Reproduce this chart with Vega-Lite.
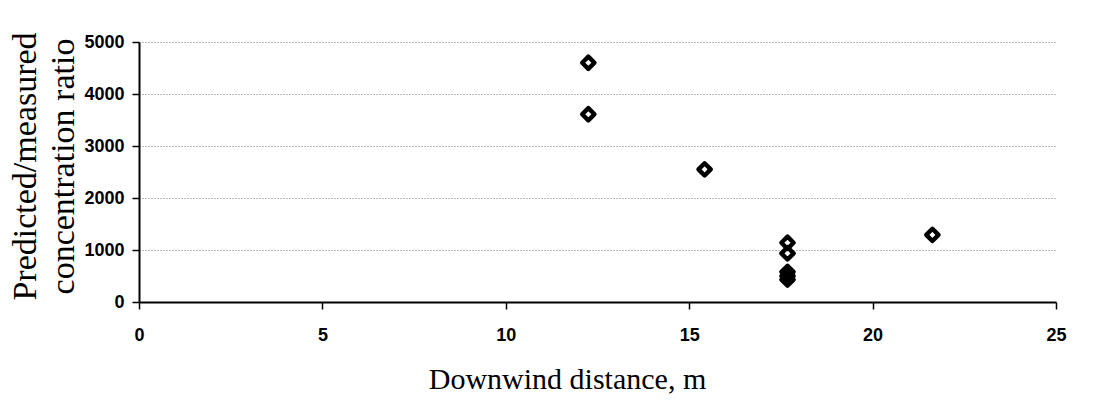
{
  "$schema": "https://vega.github.io/schema/vega-lite/v6.json",
  "autosize": {"type": "none"},
  "padding": {"left": 139, "top": 42, "right": 39, "bottom": 116},
  "width": 917,
  "height": 260,
  "background": "white",
  "data": {
    "values": [
      {"distance": 12.25, "ratio": 4600},
      {"distance": 12.25, "ratio": 3610},
      {"distance": 15.42, "ratio": 2550},
      {"distance": 17.68, "ratio": 1140},
      {"distance": 17.68, "ratio": 936},
      {"distance": 17.68, "ratio": 580},
      {"distance": 17.68, "ratio": 500},
      {"distance": 17.68, "ratio": 430},
      {"distance": 21.63, "ratio": 1290}
    ]
  },
  "mark": {
    "type": "point",
    "shape": "diamond",
    "filled": false,
    "size": 150,
    "strokeWidth": 4.4,
    "strokeJoin": "round",
    "color": "black",
    "opacity": 1
  },
  "encoding": {
    "x": {
      "field": "distance",
      "type": "quantitative",
      "scale": {"domain": [0, 25], "nice": false, "zero": true},
      "axis": {
        "title": "Downwind distance, m",
        "values": [0, 5, 10, 15, 20, 25],
        "format": "d",
        "grid": false,
        "domainColor": "black",
        "domainWidth": 2,
        "tickColor": "black",
        "tickWidth": 1.5,
        "tickSize": 7,
        "labelFont": "Liberation Sans",
        "labelFontWeight": "bold",
        "labelFontSize": 18,
        "labelColor": "black",
        "labelPadding": 17,
        "labelFlush": false,
        "titleFont": "Liberation Serif",
        "titleFontWeight": "normal",
        "titleFontSize": 30,
        "titleColor": "black",
        "titleX": 428,
        "titleY": 86,
        "titleAlign": "center",
        "titleBaseline": "alphabetic"
      }
    },
    "y": {
      "field": "ratio",
      "type": "quantitative",
      "scale": {"domain": [0, 5000], "nice": false},
      "axis": {
        "title": ["Predicted/measured", "concentration ratio"],
        "values": [0, 1000, 2000, 3000, 4000, 5000],
        "format": "d",
        "grid": true,
        "gridColor": "#777777",
        "gridDash": [1, 2],
        "gridWidth": 1,
        "domainColor": "black",
        "domainWidth": 2,
        "tickColor": "black",
        "tickWidth": 1.5,
        "tickSize": 7,
        "labelFont": "Liberation Sans",
        "labelFontWeight": "bold",
        "labelFontSize": 18,
        "labelColor": "black",
        "labelPadding": 8,
        "labelFlush": false,
        "titleFont": "Liberation Serif",
        "titleFontWeight": "normal",
        "titleFontSize": 34,
        "titleColor": "black",
        "titleLineHeight": 38,
        "titleAngle": -90,
        "titleX": -131,
        "titleY": 124,
        "titleAlign": "center",
        "titleBaseline": "top"
      }
    }
  },
  "config": {"view": {"stroke": null}}
}
